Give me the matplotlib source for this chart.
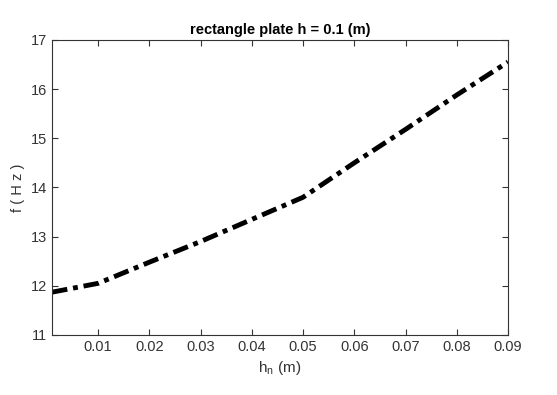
import matplotlib
matplotlib.use("Agg")
import matplotlib.pyplot as plt

hn = [0.001, 0.01, 0.02, 0.03, 0.04, 0.05, 0.06, 0.07, 0.08, 0.09]
freq = [11.87, 12.05, 12.48, 12.9, 13.35, 13.8, 14.5, 15.18, 15.88, 16.55]
xticks = [0.01, 0.02, 0.03, 0.04, 0.05, 0.06, 0.07, 0.08, 0.09]
yticks = [11, 12, 13, 14, 15, 16, 17]

plt.rcParams['font.family'] = ['Liberation Sans', 'DejaVu Sans']
fig = plt.figure(figsize=(5.57, 3.95), dpi=100)
ax = fig.add_axes([0.0934, 0.152, 0.8186, 0.747])
ax.plot(hn, freq, color='black', linewidth=3.5, linestyle=(0, (3.2, 1.2, 1, 1.2)))
ax.set_xlim(0.001, 0.09)
ax.set_ylim(11, 17)
ax.set_xticks(xticks)
ax.set_xticklabels([f"{t:.2f}" for t in xticks])
ax.set_yticks(yticks)
ax.tick_params(direction='in', top=True, right=True, labelsize=10.5, colors='#333333', length=4)
for s in ax.spines.values():
    s.set_color('#333333')
ax.set_title('rectangle plate h = 0.1 (m)', fontsize=10.5, fontweight='bold', pad=4)
ax.set_xlabel('h$_\\mathregular{n}$ (m)', fontsize=11, color='#333333')
ax.set_ylabel('f ( H z )', fontsize=10.5, color='#333333')
fig.savefig('out.png', dpi=100)
